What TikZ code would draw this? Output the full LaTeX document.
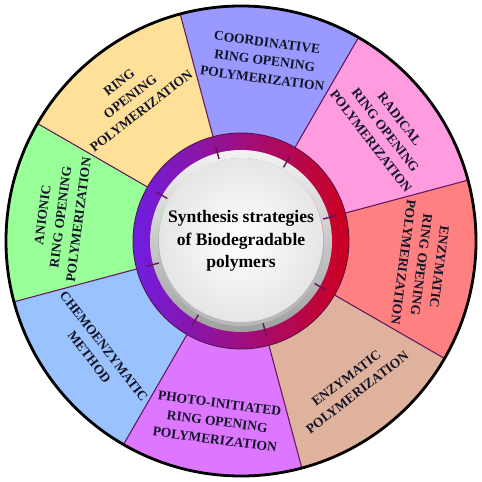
\documentclass[tikz,border=0pt]{standalone}
\usepackage{fontspec}
\setmainfont{Liberation Serif}
\definecolor{cRadical}{RGB}{255,156,224}
\definecolor{cCoord}{RGB}{153,153,255}
\definecolor{cRing}{RGB}{255,224,153}
\definecolor{cAnionic}{RGB}{153,255,153}
\definecolor{cChemo}{RGB}{153,194,255}
\definecolor{cPhoto}{RGB}{221,119,255}
\definecolor{cEnzPoly}{RGB}{222,178,156}
\definecolor{cEnzRop}{RGB}{255,128,128}
\definecolor{linecol}{RGB}{100,20,90}
\definecolor{textcol}{RGB}{20,20,40}
\definecolor{ringL}{RGB}{110,30,225}
\definecolor{ringR}{RGB}{205,0,30}
\begin{document}
\begin{tikzpicture}[x=0.03cm,y=0.03cm]
\tikzstyle{border}=[draw=linecol,line width=0.9pt]
\tikzstyle{tick}=[draw=linecol,line width=1.2pt]
\tikzstyle{label}=[text=textcol,font=\bfseries\fontsize{11.5}{15.5}\selectfont,align=center,inner sep=0pt]
\tikzstyle{title}=[text=black,font=\bfseries\fontsize{15}{19}\selectfont,align=center,inner sep=0pt]
\useasboundingbox (-241,-241) rectangle (241,241);

% sectors
\foreach \a/\col in {15/cRadical,60/cCoord,105/cRing,150/cAnionic,195/cChemo,240/cPhoto,285/cEnzPoly,330/cEnzRop}
  \fill[\col] (0,0) -- (\a:235) arc (\a:\a+45:235) -- cycle;
\foreach \a in {15,60,...,330}
  \draw[border] (\a:100) -- (\a:235);
\draw[black,line width=2.4pt] (0,0) circle (235);

% labels
\foreach \a/\r/\t/\n in {
  37.5/-52.5/{RADICAL\\RING OPENING\\POLYMERIZATION}/radical,
  82.5/-7.5/{COORDINATIVE\\RING OPENING\\POLYMERIZATION}/coordinative,
  127.5/37.5/{RING\\OPENING\\POLYMERIZATION}/ringopening,
  172.5/82.5/{ANIONIC\\RING OPENING\\POLYMERIZATION}/anionic,
  217.5/-52.5/{CHEMOENZYMATIC\\METHOD}/chemo,
  262.5/-7.5/{PHOTO-INITIATED\\RING OPENING\\POLYMERIZATION}/photo,
  307.5/37.5/{ENZYMATIC\\POLYMERIZATION}/enzpoly,
  352.5/-97.5/{ENZYMATIC\\RING OPENING\\POLYMERIZATION}/enzrop}
  \node[label,rotate=\r] (\n) at (\a:182) {\t};

% center ring
\shade[left color=ringL,right color=ringR,even odd rule] (0,0) circle (108) (0,0) circle (84);
\draw[linecol!80!black,line width=0.7pt] (0,0) circle (108);
\shade[top color=gray!10,bottom color=gray!75,even odd rule] (0,0) circle (91) (0,0) circle (83);
\foreach \a in {15,60,...,330}
  \draw[tick] (\a:85) -- (\a:98);
\fill[gray!55] (0,-2) circle (83);
\shade[inner color=white,outer color=gray!20] (0,1) circle (82);
\node[title] (center) at (0,0) {Synthesis strategies\\of Biodegradable\\polymers};
\end{tikzpicture}
\end{document}
